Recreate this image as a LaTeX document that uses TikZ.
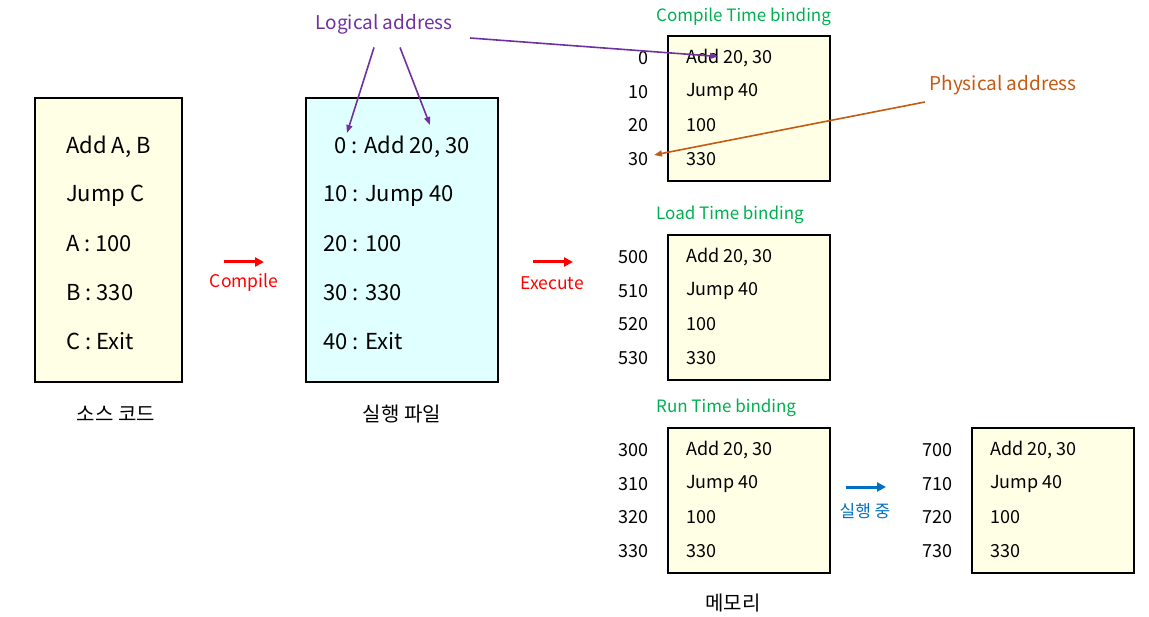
\documentclass[tikz,border=0pt]{standalone}
\usepackage{fontspec}
\setmainfont{Noto Sans CJK KR}
\usetikzlibrary{arrows.meta}
\definecolor{memfill}{HTML}{FFFFE6}
\definecolor{exefill}{HTML}{E0FFFF}
\definecolor{bindgreen}{HTML}{00B050}
\definecolor{logpurple}{HTML}{7030A0}
\definecolor{physorange}{HTML}{C55A11}
\definecolor{runblue}{HTML}{0070C0}
\tikzset{codebox/.style={draw,line width=1.5pt,minimum width=147pt,minimum height=284pt,inner sep=0pt},
    membox/.style={draw,line width=1.5pt,fill=memfill,minimum width=162pt,minimum height=145pt,inner sep=0pt},
    codeline/.style={anchor=west,inner sep=1pt,font=\fontsize{22}{26}\selectfont},
    memline/.style={anchor=west,inner sep=1pt,font=\fontsize{18}{21}\selectfont},
    addr/.style={anchor=east,inner sep=1pt,font=\fontsize{18}{21}\selectfont},
    bind/.style={anchor=west,inner sep=1pt,text=bindgreen,font=\fontsize{17}{20}\selectfont},
    caption/.style={font=\fontsize{20}{24}\selectfont},
    flowlabel/.style={font=\fontsize{17.5}{20}\selectfont},
    flowarrow/.style={-{Triangle[length=9pt,width=9pt]},line width=3pt},
    note/.style={font=\fontsize{19}{22}\selectfont},
    notearrow/.style={-{Triangle[length=8pt,width=6pt]},line width=1.6pt}}
\begin{document}
\begin{tikzpicture}[x=1pt,y=-1pt]
\useasboundingbox (0,0) rectangle (1149,617);
% source code and executable file
\node[codebox,fill=memfill] (src) at (108.5,240) {};
\node[codebox,fill=exefill,minimum width=192pt] (exe) at (402,240) {};
\foreach \t [count=\i] in {{Add A, B},Jump C,A : 100,B : 330,C : Exit}
    \node[codeline] (src\i) at (65,98.5+48.5*\i) {\t};
\node[codeline] (exe1) at (333,147) {0 : Add 20, 30};
\foreach \t [count=\i from 2] in {10 : Jump 40,20 : 100,30 : 330,40 : Exit}
    \node[codeline] (exe\i) at (322,98.5+48.5*\i) {\t};
\node[caption] (srccap) at (116,414) {소스 코드};
\node[caption] (execap) at (402,414) {실행 파일};

% compile / execute
\coordinate (cmpL) at (224,262); \coordinate (cmpR) at (264,262);
\coordinate (runL) at (533,262); \coordinate (runR) at (573,262);
\draw[flowarrow,red] (cmpL) -- (cmpR);
\draw[flowarrow,red] (runL) -- (runR);
\node[flowlabel,text=red] (cmp) at (244,283) {Compile};
\node[flowlabel,text=red] (run) at (552,283) {Execute};

% memory
\foreach \nm/\x/\y/\base in {ct/749/108.5/0,lt/749/307.5/500,rt/749/500.5/300,mv/1053/500.5/700}{
    \node[membox] (\nm) at (\x,\y) {};
    \foreach \t [count=\i] in {{Add 20, 30},Jump 40,100,330}{
        \pgfmathtruncatemacro\ad{\base+10*(\i-1)}
        \node[memline] (\nm\i) at (\x-64,\y-83.5+33.5*\i) {\t};
        \node[addr] (\nm-a\i) at (\x-99,\y-83.5+33.5*\i) {\ad};
    }
}
\node[bind] (ctl) at (655,17) {Compile Time binding};
\node[bind] (ltl) at (655,215) {Load Time binding};
\node[bind] (rtl) at (655,408) {Run Time binding};
\node[caption] (memcap) at (733,603) {메모리};

\coordinate (mvL) at (846,487); \coordinate (mvR) at (886,487);
\draw[flowarrow,runblue] (mvL) -- (mvR);
\node[flowlabel,text=runblue,font=\fontsize{17}{20}\selectfont] (mvlab) at (865,511) {실행 중};

% logical / physical address
\node[note,text=logpurple] (logic) at (384,24) {Logical address};
\node[note,text=physorange] (phys) at (1003,85) {Physical address};
\draw[notearrow,logpurple] ([shift={(-10,10)}]logic.south) -- ([shift={(14,-14)}]exe1.west);
\draw[notearrow,logpurple] ([shift={(16,10)}]logic.south) -- ([shift={(97,-22)}]exe1.west);
\draw[notearrow,logpurple] ([shift={(14,14)}]logic.east) -- ([shift={(33,-2)}]ct1.west);
\draw[notearrow,physorange] ([shift={(-1,17)}]phys.west) -- ([shift={(4,-4)}]ct-a4.east);
\end{tikzpicture}
\end{document}
